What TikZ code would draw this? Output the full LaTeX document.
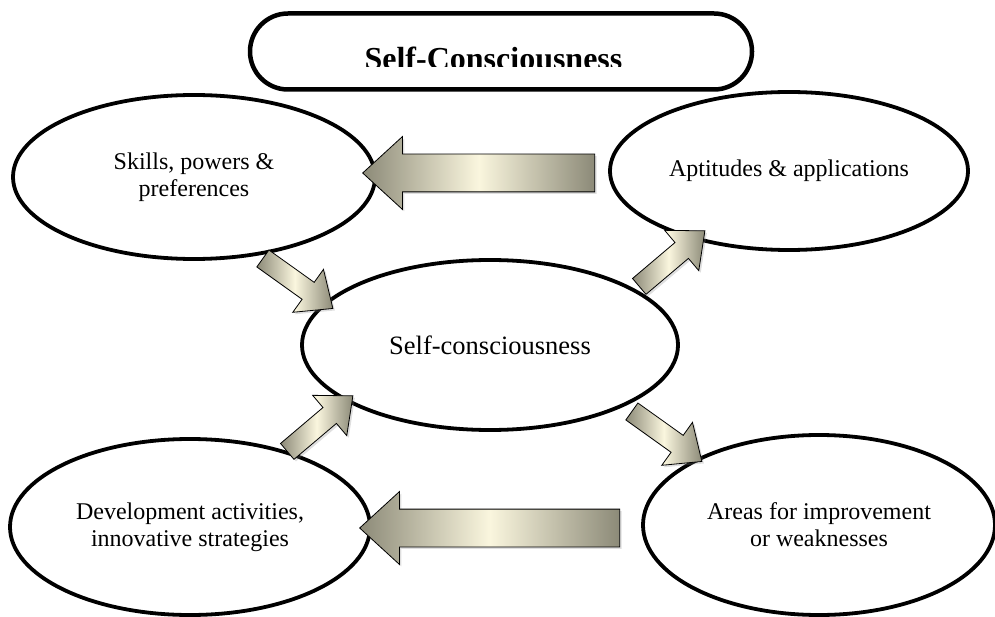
\documentclass[tikz,border=0pt]{standalone}
\usepackage{fontspec}
\setmainfont{Liberation Serif}
\usetikzlibrary{shapes.geometric,shapes.arrows,shadows}

\definecolor{arrowdark}{RGB}{140,138,120}
\definecolor{arrowlight}{RGB}{250,246,222}

\begin{document}
\begin{tikzpicture}[%show background rectangle,
        x=1pt, y=-1pt,
        bubble/.style={draw, line width=3.8pt, ellipse, fill=white,
            inner sep=0pt, align=center, font=\fontsize{24}{27}\selectfont},
        blockarrow/.style={single arrow, draw=black, line width=.8pt,
            inner xsep=0pt, left color=arrowdark, right color=arrowdark,
            middle color=arrowlight, sloped, allow upside down,
            drop shadow={opacity=.25, shadow xshift=2pt, shadow yshift=-2pt}},
        bigarrow/.style={blockarrow, inner ysep=18.5pt,
            single arrow head extend=17.5pt, single arrow tip angle=85},
        smallarrow/.style={blockarrow, inner ysep=10pt, minimum height=86pt,
            single arrow head extend=16pt, single arrow tip angle=82}
        ]
            \useasboundingbox (0,0) rectangle (995,617);

            % Titel
            \node [draw, line width=4.5pt, rounded corners=38pt,
                   minimum width=502pt, minimum height=76pt] (title) at (501,51.5) {};
            \begin{scope}
                \clip (250,0) rectangle (752,67);
                \node [anchor=base, font=\bfseries\fontsize{32}{36}\selectfont]
                      (titletext) at (493.5,69.5) {Self-Consciousness};
            \end{scope}

            % Ellipsen
            \node [bubble, minimum width=362pt, minimum height=164pt] (skills) at (194,177)
                  {Skills, powers \&\\ preferences};
            \node [bubble, minimum width=358pt, minimum height=158pt] (apt) at (789,171)
                  {Aptitudes \& applications};
            \node [bubble, minimum width=376pt, minimum height=170pt,
                   font=\fontsize{26.5}{30}\selectfont] (self) at (490,345)
                  {Self-consciousness};
            \node [bubble, minimum width=360pt, minimum height=176pt] (dev) at (190,527)
                  {Development activities,\\ innovative strategies};
            \node [bubble, minimum width=352pt, minimum height=180pt] (areas) at (819,525)
                  {Areas for improvement\\ or weaknesses};

            % Pfeile, Enden
            \coordinate (apt-out)   at (605,173);
            \coordinate (skills-in) at (373,173);
            \coordinate (areas-out) at (630,528);
            \coordinate (dev-in)    at (370,528);
            \coordinate (skills-out) at (258,255);
            \coordinate (self-in-a)  at (328,305);
            \coordinate (dev-out)    at (283,455);
            \coordinate (self-in-b)  at (348,400);
            \coordinate (self-out-a) at (635,290);
            \coordinate (apt-in)     at (700,235);
            \coordinate (self-out-b) at (627,408);
            \coordinate (areas-in)   at (697,458);

            % Pfeile
            \path (apt-out) -- node [bigarrow, minimum height=232pt] (arr-top) {} (skills-in);
            \path (areas-out) -- node [bigarrow, minimum height=260pt] (arr-bottom) {} (dev-in);
            \path (skills-out) -- node [smallarrow] (arr-skills) {} (self-in-a);
            \path (dev-out) -- node [smallarrow] (arr-dev) {} (self-in-b);
            \path (self-out-a) -- node [smallarrow] (arr-apt) {} (apt-in);
            \path (self-out-b) -- node [smallarrow] (arr-areas) {} (areas-in);
        \end{tikzpicture}
\end{document}
